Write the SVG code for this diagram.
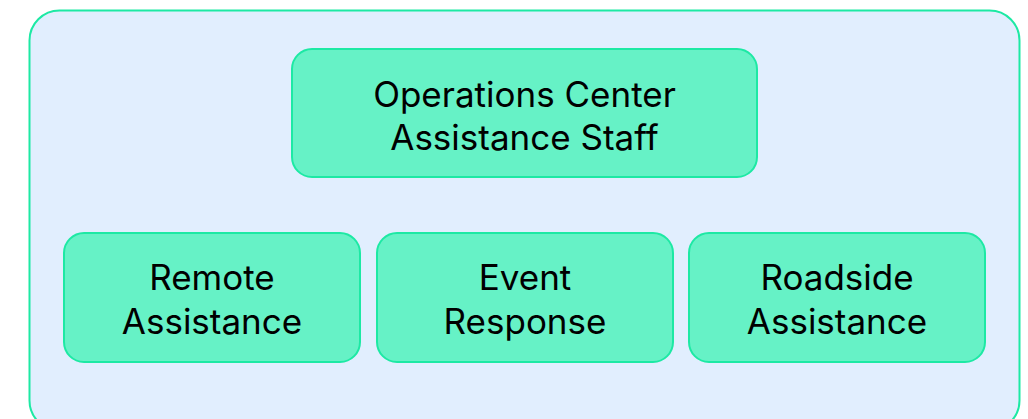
<svg xmlns="http://www.w3.org/2000/svg" width="1028" height="419" viewBox="0 0 1028 419">
  <style>
    .frame { fill: #e1eefe; stroke: #1de9a4; stroke-width: 2; }
    .box { fill: #66f2c6; stroke: #1de9a4; stroke-width: 2; }
    .label { font-family: Inter, "Noto Sans", sans-serif; font-size: 35px; fill: #000; text-anchor: middle; }
  </style>
  <rect class="frame" x="29.5" y="10.5" width="990" height="420" rx="30"/>
  <g id="ops-center">
    <rect class="box" x="292" y="49" width="465" height="128" rx="20"/>
    <text class="label" x="524.5" y="107">Operations Center</text>
    <text class="label" x="524.5" y="150">Assistance Staff</text>
  </g>
  <g id="remote-assistance">
    <rect class="box" x="64" y="233" width="296" height="129" rx="20"/>
    <text class="label" x="212" y="290">Remote</text>
    <text class="label" x="212" y="334">Assistance</text>
  </g>
  <g id="event-response">
    <rect class="box" x="377" y="233" width="296" height="129" rx="20"/>
    <text class="label" x="525" y="290">Event</text>
    <text class="label" x="525" y="334">Response</text>
  </g>
  <g id="roadside-assistance">
    <rect class="box" x="689" y="233" width="296" height="129" rx="20"/>
    <text class="label" x="837" y="290">Roadside</text>
    <text class="label" x="837" y="334">Assistance</text>
  </g>
  <g id="connectors"></g>
</svg>
